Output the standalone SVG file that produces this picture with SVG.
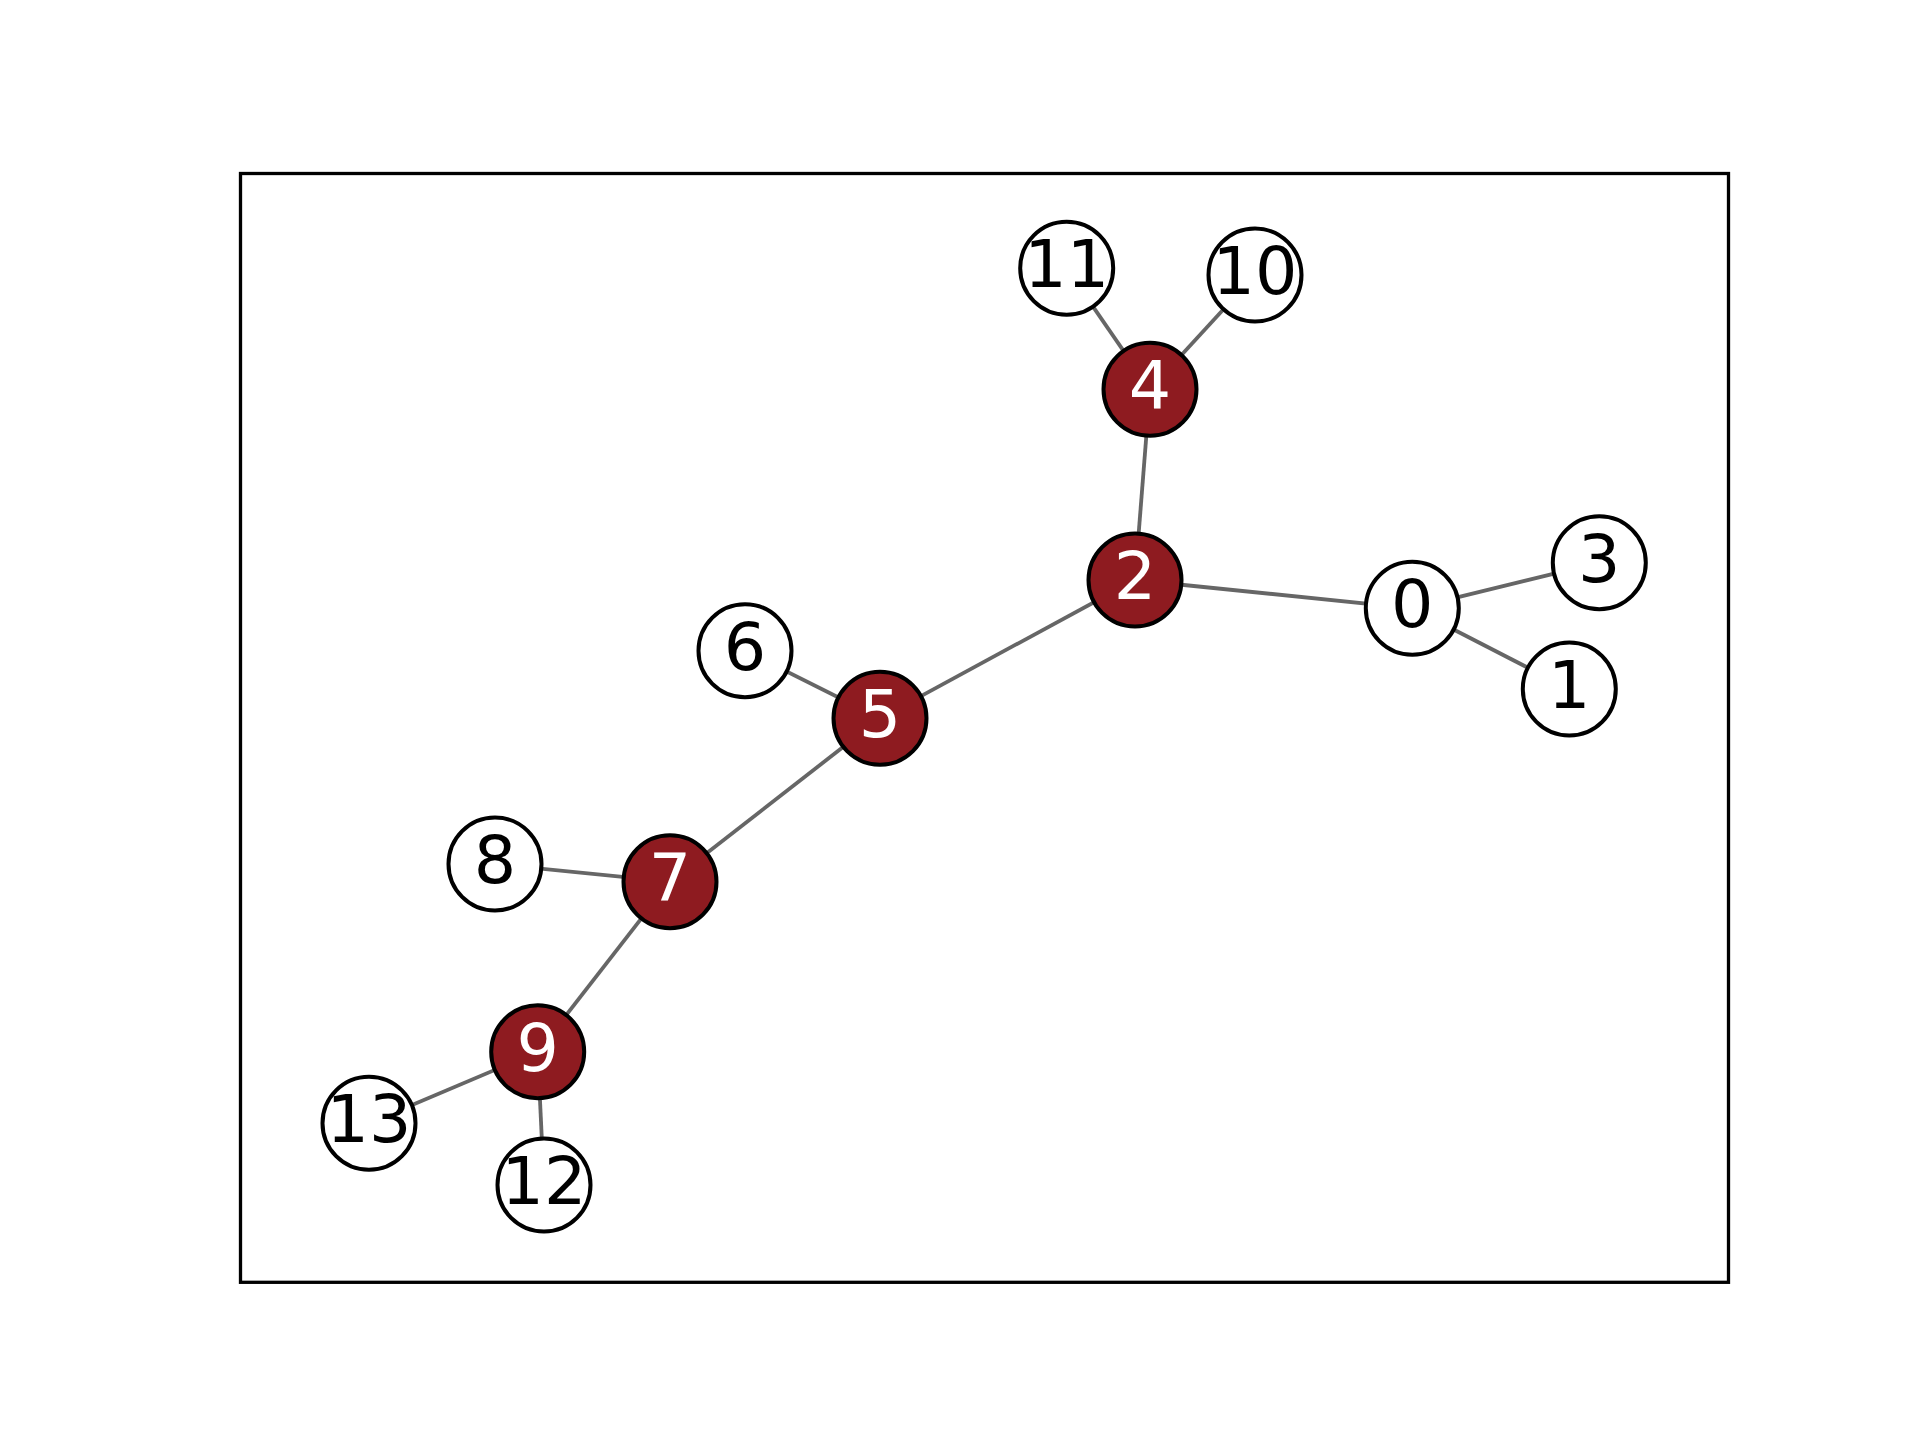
<svg xmlns="http://www.w3.org/2000/svg" width="1920" height="1440" viewBox="0 0 1920 1440">
<style>
.edge{stroke:#666666;stroke-width:3.8;fill:none}
.n circle{stroke:#000;stroke-width:4}
.w circle{fill:#ffffff}
.r circle{fill:#8e1b20}
.n text{font-family:"DejaVu Sans",sans-serif;font-size:66.7px;text-anchor:middle}
.w text{fill:#000}
.r text{fill:#fff}
</style>
<rect x="0" y="0" width="1920" height="1440" fill="#ffffff"/>
<rect x="240.5" y="173.5" width="1488" height="1108.8" fill="none" stroke="#000" stroke-width="3.3"/>
<g id="edges">
<line class="edge" x1="1135" y1="580" x2="1150" y2="389.3"/>
<line class="edge" x1="1150" y1="389.3" x2="1066.7" y2="268.3"/>
<line class="edge" x1="1150" y1="389.3" x2="1255" y2="275"/>
<line class="edge" x1="1135" y1="580" x2="1412.3" y2="608.3"/>
<line class="edge" x1="1412.3" y1="608.3" x2="1599.3" y2="562.7"/>
<line class="edge" x1="1412.3" y1="608.3" x2="1569.3" y2="689"/>
<line class="edge" x1="1135" y1="580" x2="880" y2="718.3"/>
<line class="edge" x1="880" y1="718.3" x2="745" y2="650.7"/>
<line class="edge" x1="880" y1="718.3" x2="670" y2="881.7"/>
<line class="edge" x1="670" y1="881.7" x2="495" y2="864"/>
<line class="edge" x1="670" y1="881.7" x2="537.7" y2="1051.7"/>
<line class="edge" x1="537.7" y1="1051.7" x2="369" y2="1123.3"/>
<line class="edge" x1="537.7" y1="1051.7" x2="544" y2="1185"/>
</g>
<g id="node0" class="n w"><circle cx="1412.3" cy="608.3" r="46.5"/><text x="1412.3" y="627.3">0</text></g>
<g id="node1" class="n w"><circle cx="1569.3" cy="689" r="46.5"/><text x="1569.3" y="708">1</text></g>
<g id="node2" class="n r"><circle cx="1135" cy="580" r="46.5"/><text x="1135" y="599">2</text></g>
<g id="node3" class="n w"><circle cx="1599.3" cy="562.7" r="46.5"/><text x="1599.3" y="581.7">3</text></g>
<g id="node4" class="n r"><circle cx="1150" cy="389.3" r="46.5"/><text x="1150" y="408.3">4</text></g>
<g id="node5" class="n r"><circle cx="880" cy="718.3" r="46.5"/><text x="880" y="737.3">5</text></g>
<g id="node6" class="n w"><circle cx="745" cy="650.7" r="46.5"/><text x="745" y="669.7">6</text></g>
<g id="node7" class="n r"><circle cx="670" cy="881.7" r="46.5"/><text x="670" y="900.7">7</text></g>
<g id="node8" class="n w"><circle cx="495" cy="864" r="46.5"/><text x="495" y="883">8</text></g>
<g id="node9" class="n r"><circle cx="537.7" cy="1051.7" r="46.5"/><text x="537.7" y="1070.7">9</text></g>
<g id="node10" class="n w"><circle cx="1255" cy="275" r="46.5"/><text x="1255" y="294">10</text></g>
<g id="node11" class="n w"><circle cx="1066.7" cy="268.3" r="46.5"/><text x="1066.7" y="287.3">11</text></g>
<g id="node12" class="n w"><circle cx="544" cy="1185" r="46.5"/><text x="544" y="1204">12</text></g>
<g id="node13" class="n w"><circle cx="369" cy="1123.3" r="46.5"/><text x="369" y="1142.3">13</text></g>
</svg>
